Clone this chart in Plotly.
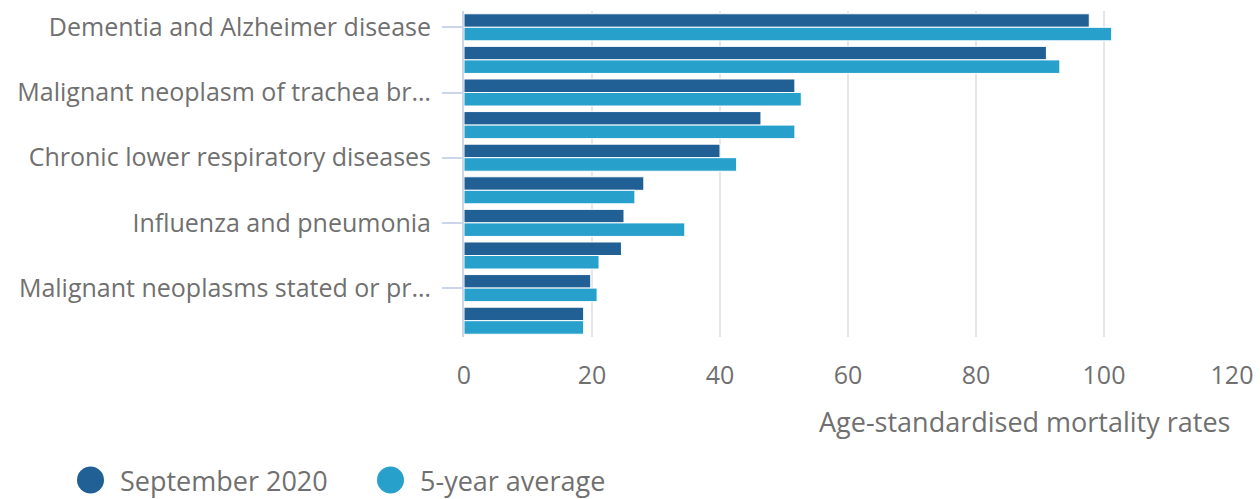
import plotly.graph_objects as go

categories = [
    "Dementia and Alzheimer disease",
    "Ischaemic heart diseases",
    "Malignant neoplasm of trachea bronchus and lung",
    "Cerebrovascular diseases",
    "Chronic lower respiratory diseases",
    "Malignant neoplasm of colon, sigmoid, rectum and anus",
    "Influenza and pneumonia",
    "Symptoms, signs and ill-defined conditions",
    "Malignant neoplasms stated or presumed to be primary of lymphoid, haematopoietic and related tissue",
    "Heart failure and complications and ill-defined heart disease",
]
september_2020 = [97.7, 91.0, 51.7, 46.4, 40.0, 28.1, 25.0, 24.6, 19.8, 18.7]
five_year_avg = [101.2, 93.1, 52.7, 51.7, 42.6, 26.7, 34.5, 21.1, 20.8, 18.7]

tick_categories = categories[::2]
tick_labels = [
    "Dementia and Alzheimer disease",
    "Malignant neoplasm of trachea br…",
    "Chronic lower respiratory diseases",
    "Influenza and pneumonia",
    "Malignant neoplasms stated or pr…",
]
x_ticks = [0, 20, 40, 60, 80, 100, 120]
series_names = ["September 2020", "5-year average"]

DARK = "#206095"
LIGHT = "#27a0cc"
TEXT = "#707070"
FONT = "Open Sans"

W, H = 1260, 499
ML, MR, MT, MB = 464, 28, 11, 162
PW, PH = W - ML - MR, H - MT - MB


def px_x(px):
    return (px - ML) / PW


def px_y(py):
    return (H - MB - py) / PH


fig = go.Figure()
fig.add_trace(go.Bar(
    y=categories, x=september_2020, orientation="h", name=series_names[0],
    marker=dict(color=DARK, line=dict(color="#ffffff", width=1)),
))
fig.add_trace(go.Bar(
    y=categories, x=five_year_avg, orientation="h", name=series_names[1],
    marker=dict(color=LIGHT, line=dict(color="#ffffff", width=1)),
))

# custom legend (circles + text)
shapes = []
annotations = []
for name, color, cx in zip(series_names, [DARK, LIGHT], [90.5, 390.5]):
    shapes.append(dict(type="circle", xref="paper", yref="paper",
                       xsizemode="pixel", ysizemode="pixel",
                       xanchor=px_x(cx), yanchor=px_y(480),
                       x0=-13.5, x1=13.5, y0=-13.5, y1=13.5,
                       fillcolor=color, line=dict(width=0)))
    annotations.append(dict(text=name, xref="paper", yref="paper",
                            x=px_x(cx + 27), y=px_y(480.5), xanchor="left", yanchor="middle",
                            showarrow=False, font=dict(family=FONT, size=27, color=TEXT)))

annotations.append(dict(text="Age-standardised mortality rates", xref="paper", yref="paper",
                        x=px_x(1232), y=px_y(421), xanchor="right", yanchor="middle",
                        showarrow=False, font=dict(family=FONT, size=27, color=TEXT)))

fig.update_layout(
    width=W, height=H,
    margin=dict(l=ML, r=MR, t=MT, b=MB, autoexpand=False),
    paper_bgcolor="white", plot_bgcolor="white",
    barmode="group", bargap=0.17, bargroupgap=0.0,
    font=dict(family=FONT, size=25, color=TEXT),
    showlegend=False,
    shapes=shapes,
    annotations=annotations,
)
fig.update_xaxes(
    range=[0, 120], tickvals=x_ticks, showgrid=True, gridcolor="#e6e6e6", gridwidth=2,
    zeroline=False, showline=False, ticks="", tickfont=dict(size=25, color=TEXT),
    ticklabelstandoff=21, fixedrange=True,
)
fig.update_yaxes(
    type="category", categoryorder="array", categoryarray=categories,
    autorange="reversed", tickmode="array", tickvals=tick_categories, ticktext=tick_labels,
    ticks="outside", ticklen=20, tickcolor="#ccd6eb", tickwidth=2,
    showline=True, linecolor="#ccd6eb", linewidth=2, showgrid=False,
    ticklabelstandoff=6, tickfont=dict(size=25, color=TEXT),
)

fig.write_html("out.html")
